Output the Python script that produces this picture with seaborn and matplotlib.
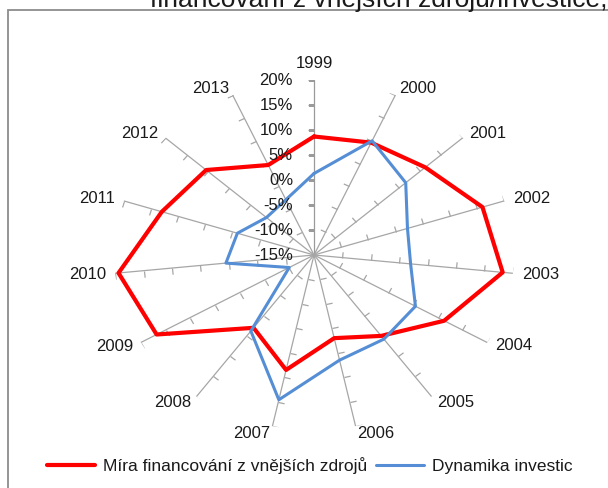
import numpy as np
import pandas as pd
import matplotlib
matplotlib.use("Agg")
import matplotlib.pyplot as plt
import seaborn as sns
from matplotlib.markers import MarkerStyle
from matplotlib.path import Path
from matplotlib.transforms import Affine2D
from matplotlib.lines import Line2D
from matplotlib.patches import Rectangle

# --- data -------------------------------------------------------------
years = [str(y) for y in range(1999, 2014)]
external_financing = [8.7, 9.6, 11.2, 16.0, 18.2, 11.3, 5.0, 2.0, 8.5, 3.0,
                      16.8, 19.4, 13.0, 10.4, 4.7]
investment_growth = [1.3, 10.0, 6.6, 2.2, 2.0, 5.5, 5.8, 6.5, 14.6, 3.8,
                     -10.0, 0.5, -0.9, -3.8, -2.9]
series_names = ["Míra financování z vnějších zdrojů", "Dynamika investic"]
r_ticks = [-15, -10, -5, 0, 5, 10, 15, 20]
r_tick_labels = [f"{t}%" for t in r_ticks]
title_text = "financování z vnějších zdrojů/investice,"

RED = "#ff0000"
BLUE = "#558ed5"
SPOKE = "#a6a6a6"
TEXT = "#1a1a1a"
LABEL_SIZE = 12

sns.set_theme(style="white")
plt.rcParams["font.family"] = ["Liberation Sans", "DejaVu Sans"]

W, H = 608, 488
fig = plt.figure(figsize=(W / 100, H / 100), dpi=100)
fig.patch.set_facecolor("white")

# chart-area frame
fig.add_artist(Rectangle((8 / W, -0.1), 2.0, 1 - 10 / H + 0.1,
                         transform=fig.transFigure, fill=False,
                         ec="#8c8c8c", lw=1.3, clip_on=False))
fig.text(150 / W, 1 - 7 / H, title_text, fontsize=19, ha="left",
         va="baseline", color=TEXT)

# radar area: centre (314, 255), radii 200 x 175 px
cx, cy, rx, ry = 314, 255, 200, 175
ax = fig.add_axes([(cx - rx) / W, (H - cy - ry) / H, 2 * rx / W, 2 * ry / H],
                  projection="polar")
ax.set_aspect("auto")
ax.set_theta_zero_location("N")
ax.set_theta_direction(-1)
ax.set_ylim(r_ticks[0], r_ticks[-1])
ax.grid(False)
ax.set_xticks([])
ax.set_yticks([])
ax.spines["polar"].set_visible(False)
ax.patch.set_alpha(0)

n = len(years)
theta = np.linspace(0, 2 * np.pi, n, endpoint=False)

# spokes with one-sided tick marks
tick_path = Path([(0, 0), (-1, 0)], [Path.MOVETO, Path.LINETO])
for i, t in enumerate(theta):
    col = "#9a9a9a" if i == 0 else SPOKE
    ax.plot([t, t], [r_ticks[0], r_ticks[-1]], color=col, lw=0.9, zorder=1)
    mk = MarkerStyle(tick_path, transform=Affine2D().rotate_deg(-np.degrees(t)))
    ax.plot([t] * (len(r_ticks) - 1), r_ticks[1:], linestyle="none",
            marker=mk, markersize=9, markeredgecolor=col,
            markerfacecolor="none", markeredgewidth=0.9, zorder=1)

# data series
closed_theta = np.append(theta, theta[0])
for name, vals, color, lw in [(series_names[0], external_financing, RED, 3.0),
                               (series_names[1], investment_growth, BLUE, 2.2)]:
    df = pd.DataFrame({"theta": closed_theta,
                       "value": np.append(vals, vals[0])})
    sns.lineplot(data=df, x="theta", y="value", sort=False, estimator=None,
                 color=color, lw=lw, ax=ax, legend=False, zorder=3,
                 solid_joinstyle="round")
ax.set_xlabel("")
ax.set_ylabel("")

# category labels
for t, lab in zip(theta, years):
    s, c = np.sin(t), np.cos(t)
    if abs(s) < 0.05:
        ax.annotate(lab, (t, r_ticks[-1]), xytext=(0, 9),
                    textcoords="offset pixels", ha="center", va="bottom",
                    fontsize=LABEL_SIZE, color=TEXT)
    else:
        ax.annotate(lab, (t, r_ticks[-1]), xytext=(9 * s, 7 * c),
                    textcoords="offset pixels",
                    ha="left" if s > 0 else "right", va="center",
                    fontsize=LABEL_SIZE, color=TEXT)

# value-axis labels
for r, lab in zip(r_ticks, r_tick_labels):
    ax.annotate(lab, (0, r), xytext=(-21, 0), textcoords="offset pixels",
                ha="right", va="center", fontsize=LABEL_SIZE, color=TEXT)

handles = [Line2D([], [], color=RED, lw=3.0),
           Line2D([], [], color=BLUE, lw=2.2)]
fig.legend(handles, series_names, loc="center left",
           bbox_to_anchor=(47 / W, 1 - 466 / H), ncol=2, frameon=False,
           fontsize=12.5, handlelength=2.76, handletextpad=0.46,
           columnspacing=0.52, borderpad=0, borderaxespad=0,
           labelcolor=TEXT)

fig.savefig("out.png", dpi=100)
